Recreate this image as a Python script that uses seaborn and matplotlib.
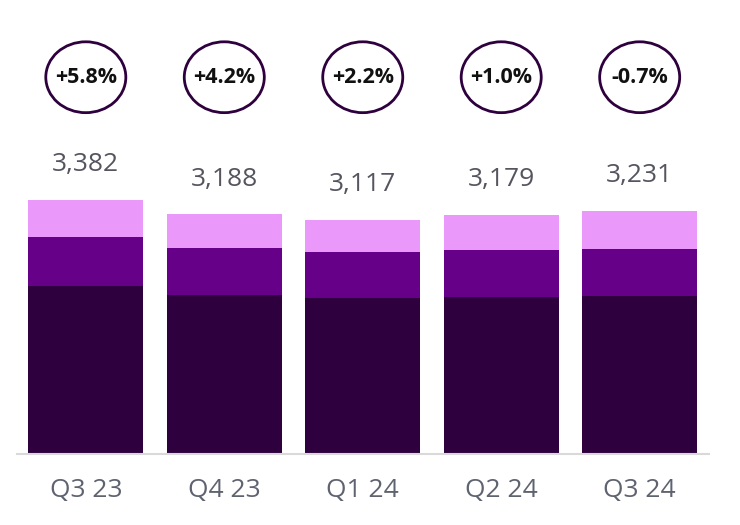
import matplotlib
matplotlib.use("Agg")
import matplotlib.pyplot as plt
import matplotlib.transforms as mtransforms
from matplotlib.patches import Ellipse
import pandas as pd
import seaborn as sns

# values
quarters = ["Q3 23", "Q4 23", "Q1 24", "Q2 24", "Q3 24"]
base = [2235, 2111, 2072, 2089, 2102]
middle = [655, 628, 615, 624, 620]
top = [492, 449, 430, 466, 509]
totals = [3382, 3188, 3117, 3179, 3231]
growth = ["+5.8%", "+4.2%", "+2.2%", "+1.0%", "-0.7%"]

DARK = "#2e003e"
MID = "#660088"
LIGHT = "#ea98fa"

df = pd.DataFrame({"quarter": quarters, "base": base, "middle": middle, "top": top})
df["lower2"] = df["base"] + df["middle"]
df["stack"] = df["lower2"] + df["top"]

sns.set_theme(style="white")
plt.rcParams["font.family"] = ["Open Sans", "DejaVu Sans"]

fig = plt.figure(figsize=(7.4, 5.25), dpi=100)
ax = fig.add_axes([0.0224, 0.1347, 0.9356, 0.8653])

# stacked bars drawn as cumulative layers
for col, color in [("stack", LIGHT), ("lower2", MID), ("base", DARK)]:
    sns.barplot(data=df, x="quarter", y=col, color=color, width=0.83,
                edgecolor="none", linewidth=0, saturation=1, ax=ax)

ax.set_xlim(-0.5, 4.5)
ax.set_ylim(0, 6033)
ax.set_xlabel("")
ax.set_ylabel("")
ax.set_yticks([])
for s in ["top", "left", "right"]:
    ax.spines[s].set_visible(False)
ax.spines["bottom"].set_color("#d9d9d9")
ax.spines["bottom"].set_linewidth(1.5)
ax.tick_params(axis="x", length=0, pad=17, labelsize=19, labelcolor="#5f6370")

# total labels above bars
for i, t in enumerate(totals):
    ax.annotate(f"{t:,}", (i, t), xytext=(0, 35), textcoords="offset pixels",
                ha="center", va="center", fontsize=19, color="#555560")

# growth bubbles
trans = mtransforms.blended_transform_factory(ax.transData, ax.transAxes)
for i, g in enumerate(growth):
    ax.add_patch(Ellipse((i, 0.83), 0.578, 0.156, transform=trans,
                         facecolor="white", edgecolor=DARK, linewidth=2, clip_on=False))
    ax.text(i, 0.83, g, transform=trans, ha="center", va="center",
            fontsize=15.5, fontweight="bold", color="#111111")

fig.savefig("out.png", dpi=100)
